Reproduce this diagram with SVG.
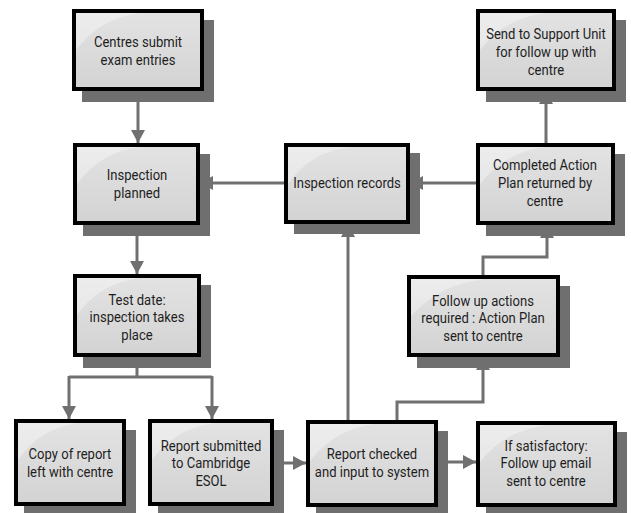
<svg xmlns="http://www.w3.org/2000/svg" width="631" height="513" viewBox="0 0 631 513">
<style>
.sh{fill:#6f6f6f}
.bx{fill:url(#g);stroke:#000;stroke-width:4}
.hl{fill:#fff;opacity:0.35}
.t{font-family:Roboto,"Liberation Sans",sans-serif;font-size:15px;fill:#1e1e1e;text-anchor:middle}
.c{fill:none;stroke:#707070;stroke-width:3}
.a{marker-end:url(#ar)}
</style>
<defs>
<linearGradient id="g" x1="0" y1="0" x2="0" y2="1">
<stop offset="0" stop-color="#e3e3e3"/>
<stop offset="1" stop-color="#d3d3d3"/>
</linearGradient>
<marker id="ar" markerUnits="userSpaceOnUse" markerWidth="15" markerHeight="14" refX="13" refY="7" orient="auto">
<path d="M0,0 L13,7 L0,14 z" fill="#707070"/>
</marker>
</defs>
<g id="connectors">
<path class="c a" d="M138,91 V143"/>
<path class="c a" d="M137,225 V274"/>
<path class="c" d="M137,357 V377 M69,377 H212"/>
<path class="c a" d="M69,376 V419"/>
<path class="c a" d="M212,376 V419"/>
<path class="c a" d="M274,463 H306"/>
<path class="c a" d="M438,462 H476"/>
<path class="c a" d="M348,420 V224"/>
<path class="c a" d="M397,420 V402 H483 V357"/>
<path class="c a" d="M483,275 V257 H547 V225"/>
<path class="c a" d="M546,143 V91"/>
<path class="c a" d="M476,183 H410"/>
<path class="c a" d="M284,183 H200"/>
</g>
<g id="n1">
<rect class="sh" x="82" y="20" width="132" height="82"/>
<rect class="bx" x="74" y="11" width="128" height="78"/>
<path class="hl" d="M76,13 H140 Q100,18 76,50 Z"/>
<g transform="translate(138 0) scale(0.87 1)">
<text class="t" x="0" y="47">Centres submit</text>
<text class="t" x="0" y="65">exam entries</text>
</g>
</g>
<g id="n2">
<rect class="sh" x="83" y="154" width="127" height="82"/>
<rect class="bx" x="75" y="145" width="123" height="78"/>
<path class="hl" d="M77,147 H140 Q100,152 77,184 Z"/>
<g transform="translate(137 0) scale(0.87 1)">
<text class="t" x="0" y="180">Inspection</text>
<text class="t" x="0" y="198">planned</text>
</g>
</g>
<g id="n3">
<rect class="sh" x="83" y="285" width="128" height="83"/>
<rect class="bx" x="75" y="276" width="124" height="79"/>
<path class="hl" d="M77,278 H140 Q100,283 77,315 Z"/>
<g transform="translate(137 0) scale(0.87 1)">
<text class="t" x="0" y="305">Test date:</text>
<text class="t" x="0" y="322">inspection takes</text>
<text class="t" x="0" y="340">place</text>
</g>
</g>
<g id="n4">
<rect class="sh" x="24" y="430" width="112" height="87"/>
<rect class="bx" x="16" y="421" width="108" height="83"/>
<path class="hl" d="M18,423 H78 Q40,428 18,460 Z"/>
<g transform="translate(70 0) scale(0.87 1)">
<text class="t" x="0" y="459">Copy of report</text>
<text class="t" x="0" y="477">left with centre</text>
</g>
</g>
<g id="n5">
<rect class="sh" x="158" y="430" width="126" height="87"/>
<rect class="bx" x="150" y="421" width="122" height="83"/>
<path class="hl" d="M152,423 H215 Q175,428 152,460 Z"/>
<g transform="translate(211 0) scale(0.87 1)">
<text class="t" x="0" y="451">Report submitted</text>
<text class="t" x="0" y="468">to Cambridge</text>
<text class="t" x="0" y="486">ESOL</text>
</g>
</g>
<g id="n6">
<rect class="sh" x="316" y="431" width="132" height="87"/>
<rect class="bx" x="308" y="422" width="128" height="83"/>
<path class="hl" d="M310,424 H375 Q335,429 310,461 Z"/>
<g transform="translate(372 0) scale(0.87 1)">
<text class="t" x="0" y="459">Report checked</text>
<text class="t" x="0" y="477">and input to system</text>
</g>
</g>
<g id="n7">
<rect class="sh" x="486" y="432" width="141" height="86"/>
<rect class="bx" x="478" y="423" width="137" height="82"/>
<path class="hl" d="M480,425 H548 Q505,430 480,462 Z"/>
<g transform="translate(546 0) scale(0.87 1)">
<text class="t" x="0" y="451">If satisfactory:</text>
<text class="t" x="0" y="468">Follow up email</text>
<text class="t" x="0" y="486">sent to centre</text>
</g>
</g>
<g id="n8">
<rect class="sh" x="417" y="286" width="153" height="82"/>
<rect class="bx" x="409" y="277" width="149" height="78"/>
<path class="hl" d="M411,279 H485 Q440,284 411,316 Z"/>
<g transform="translate(483 0) scale(0.87 1)">
<text class="t" x="0" y="306">Follow up actions</text>
<text class="t" x="0" y="323">required : Action Plan</text>
<text class="t" x="0" y="341">sent to centre</text>
</g>
</g>
<g id="n9">
<rect class="sh" x="294" y="153" width="126" height="81"/>
<rect class="bx" x="286" y="145" width="122" height="77"/>
<path class="hl" d="M288,147 H350 Q310,152 288,184 Z"/>
<g transform="translate(347 0) scale(0.87 1)">
<text class="t" x="0" y="188">Inspection records</text>
</g>
</g>
<g id="n10">
<rect class="sh" x="486" y="154" width="139" height="82"/>
<rect class="bx" x="478" y="145" width="135" height="78"/>
<path class="hl" d="M480,147 H545 Q505,152 480,184 Z"/>
<g transform="translate(545 0) scale(0.87 1)">
<text class="t" x="0" y="170">Completed Action</text>
<text class="t" x="0" y="188">Plan returned by</text>
<text class="t" x="0" y="206">centre</text>
</g>
</g>
<g id="n11">
<rect class="sh" x="486" y="20" width="140" height="82"/>
<rect class="bx" x="478" y="11" width="136" height="78"/>
<path class="hl" d="M480,13 H545 Q505,18 480,50 Z"/>
<g transform="translate(546 0) scale(0.87 1)">
<text class="t" x="0" y="39">Send to Support Unit</text>
<text class="t" x="0" y="57">for follow up with</text>
<text class="t" x="0" y="75">centre</text>
</g>
</g>
</svg>
